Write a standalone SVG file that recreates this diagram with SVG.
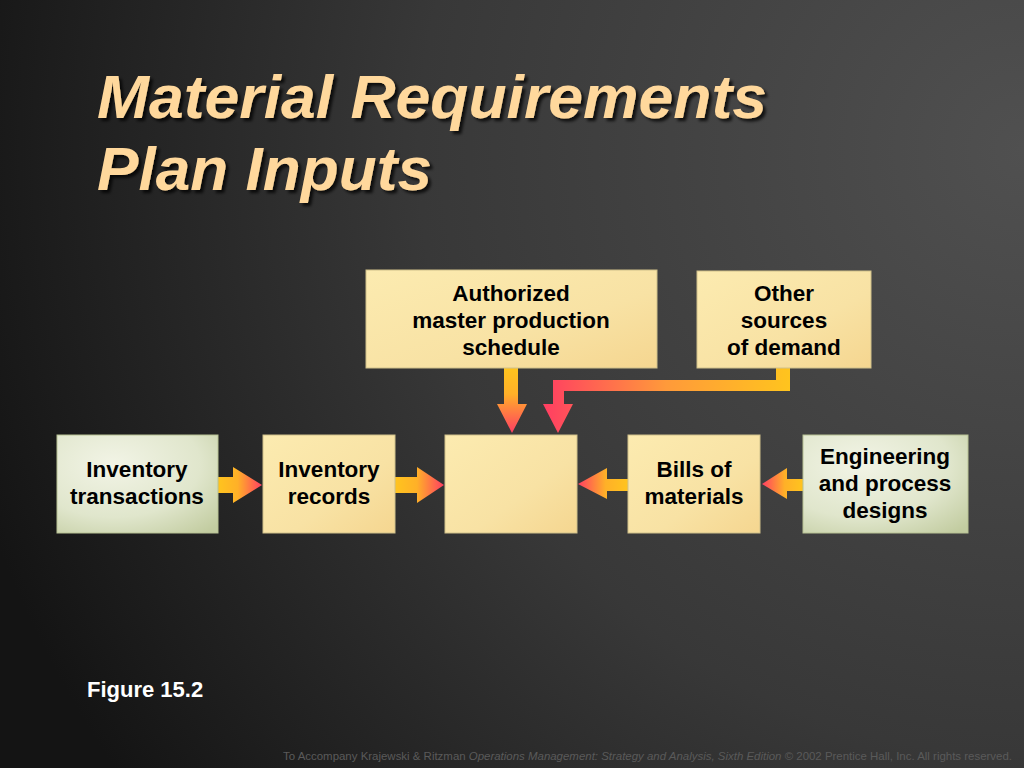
<svg xmlns="http://www.w3.org/2000/svg" width="1024" height="768" viewBox="0 0 1024 768">
<defs>
<radialGradient id="bg" cx="1024" cy="150" r="1100" gradientUnits="userSpaceOnUse">
<stop offset="0" stop-color="#505050"/>
<stop offset="0.55" stop-color="#383838"/>
<stop offset="1" stop-color="#141414"/>
</radialGradient>
<linearGradient id="yel" x1="0" y1="0" x2="1" y2="1">
<stop offset="0" stop-color="#FCEBB0"/>
<stop offset="0.6" stop-color="#F8E2A4"/>
<stop offset="1" stop-color="#F5D690"/>
</linearGradient>
<radialGradient id="grn" cx="0.35" cy="0.3" r="0.9">
<stop offset="0" stop-color="#F2F4E6"/>
<stop offset="0.6" stop-color="#E0E6CC"/>
<stop offset="1" stop-color="#C2CCA0"/>
</radialGradient>
<linearGradient id="ar" x1="0" y1="0" x2="1" y2="0">
<stop offset="0" stop-color="#FFC41E"/>
<stop offset="0.45" stop-color="#FFB028"/>
<stop offset="1" stop-color="#FF3E62"/>
</linearGradient>
<linearGradient id="al" x1="1" y1="0" x2="0" y2="0">
<stop offset="0" stop-color="#FFC41E"/>
<stop offset="0.45" stop-color="#FFB028"/>
<stop offset="1" stop-color="#FF3E62"/>
</linearGradient>
<linearGradient id="ad" x1="0" y1="0" x2="0" y2="1">
<stop offset="0" stop-color="#FFC41E"/>
<stop offset="0.4" stop-color="#FFB028"/>
<stop offset="1" stop-color="#FF3E62"/>
</linearGradient>
<linearGradient id="ao" x1="790" y1="0" x2="543" y2="0" gradientUnits="userSpaceOnUse">
<stop offset="0" stop-color="#FFC41E"/>
<stop offset="0.5" stop-color="#FF9A3A"/>
<stop offset="1" stop-color="#FF3E62"/>
</linearGradient>
<filter id="sh" x="-5%" y="-5%" width="115%" height="125%">
<feDropShadow dx="3" dy="3" stdDeviation="1.5" flood-color="#000" flood-opacity="0.75"/>
</filter>
</defs>
<style>
.box{stroke:#CFC08A;stroke-width:1}
.lbl{font-family:"Liberation Sans",Arial,sans-serif;font-weight:bold;font-size:22.5px;fill:#000;text-anchor:middle}
.title{font-family:"Liberation Sans",Arial,sans-serif;font-weight:bold;font-style:italic;font-size:61px;fill:#FFD89C}
</style>
<rect width="1024" height="768" fill="url(#bg)"/>
<g id="title" filter="url(#sh)">
<text class="title" x="97" y="118" textLength="670" lengthAdjust="spacingAndGlyphs">Material Requirements</text>
<text class="title" x="97" y="190" textLength="335" lengthAdjust="spacingAndGlyphs">Plan Inputs</text>
</g>
<g id="connectors">
<path d="M504,368 H518 V404 H527 L512,433 L497,404 H504 Z" fill="url(#ad)"/>
<path d="M776,368 H790 V391 H564 V404 H573 L558,433 L543,404 H553 V380 H776 Z" fill="url(#ao)"/>
<path d="M218,477 H233 V467 L262,485 L233,503 V493 H218 Z" fill="url(#ar)"/>
<path d="M395,477 H417 V467 L444,485 L417,503 V493 H395 Z" fill="url(#ar)"/>
<path d="M628,479 H607 V468 L578,484 L607,499 V491 H628 Z" fill="url(#al)"/>
<path d="M803,479 H787 V468 L762,484 L787,499 V491 H803 Z" fill="url(#al)"/>
</g>
<g id="mps">
<rect class="box" x="366" y="270" width="291" height="98" fill="url(#yel)"/>
<text class="lbl" x="511" y="301">Authorized</text>
<text class="lbl" x="511" y="328">master production</text>
<text class="lbl" x="511" y="355">schedule</text>
</g>
<g id="other">
<rect class="box" x="697" y="271" width="174" height="97" fill="url(#yel)"/>
<text class="lbl" x="784" y="301">Other</text>
<text class="lbl" x="784" y="328">sources</text>
<text class="lbl" x="784" y="355">of demand</text>
</g>
<g id="invtrans">
<rect x="57" y="435" width="161" height="98" fill="url(#grn)" stroke="#B8C294" stroke-width="1"/>
<text class="lbl" x="137" y="477">Inventory</text>
<text class="lbl" x="137" y="504">transactions</text>
</g>
<g id="invrec">
<rect class="box" x="263" y="435" width="132" height="98" fill="url(#yel)"/>
<text class="lbl" x="329" y="477">Inventory</text>
<text class="lbl" x="329" y="504">records</text>
</g>
<g id="mrp">
<rect class="box" x="445" y="435" width="132" height="98" fill="url(#yel)"/>
</g>
<g id="bom">
<rect class="box" x="628" y="435" width="132" height="98" fill="url(#yel)"/>
<text class="lbl" x="694" y="477">Bills of</text>
<text class="lbl" x="694" y="504">materials</text>
</g>
<g id="eng">
<rect x="803" y="435" width="165" height="98" fill="url(#grn)" stroke="#B8C294" stroke-width="1"/>
<text class="lbl" x="885" y="464">Engineering</text>
<text class="lbl" x="885" y="491">and process</text>
<text class="lbl" x="885" y="518">designs</text>
</g>
<text x="87" y="697" font-family="Liberation Sans,Arial,sans-serif" font-weight="bold" font-size="22" fill="#FFFFFF">Figure 15.2</text>
<text x="283" y="760" font-family="Liberation Sans,Arial,sans-serif" font-size="11" fill="#5A5A5A" textLength="729" lengthAdjust="spacingAndGlyphs">To Accompany Krajewski &amp; Ritzman <tspan font-style="italic">Operations Management: Strategy and Analysis, Sixth Edition</tspan> © 2002 Prentice Hall, Inc. All rights reserved.</text>
</svg>
